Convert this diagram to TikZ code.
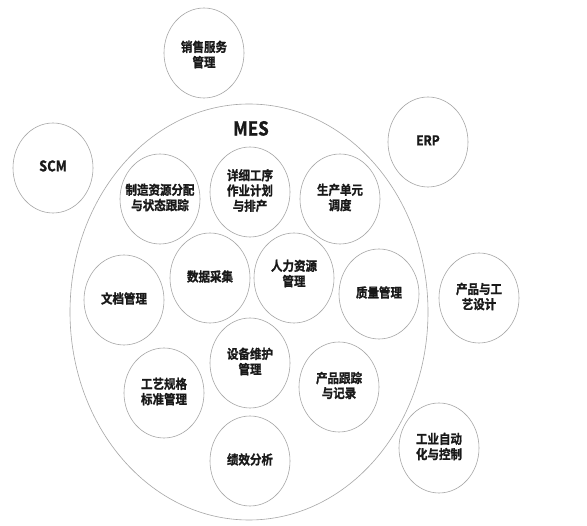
\documentclass[tikz,border=0pt]{standalone}
\usepackage{graphicx}
\usepackage{fontspec}
\newfontfamily\cjk{Noto Sans CJK SC}[BoldFont={* Bold}, BoldFeatures={FakeBold=1.2}]
\usetikzlibrary{shapes.geometric}
\newcommand\lbl[1]{\scalebox{1}[1.13]{\begin{tabular}{@{}c@{}}#1\end{tabular}}}
\tikzset{
  bub/.style={ellipse, draw=gray!70, line width=0.6pt, minimum width=80pt, minimum height=90pt, inner sep=0pt},
  big/.style={ellipse, draw=gray!70, line width=0.6pt, minimum width=358pt, minimum height=416pt, inner sep=0pt},
  lab/.style={inner sep=0pt, font=\cjk\bfseries\fontsize{11.5}{12.4}\selectfont, text=black!90},
}
\begin{document}
\begin{tikzpicture}[x=1pt,y=-1pt]
\useasboundingbox[fill=white] (0,0) rectangle (587,526);
% MES
\node[big] (mes) at (249,312) {};
\node[lab, font=\cjk\bfseries\fontsize{17}{20}\selectfont] (mes-t) at (251,131) {\lbl{MES}};
% outside
\node[bub] (sales) at (204,53) {};
\node[lab] (sales-t) at (204,56) {\lbl{销售服务\\管理}};
\node[bub] (scm) at (53,168) {};
\node[lab, font=\cjk\bfseries\fontsize{13}{15}\selectfont] (scm-t) at (scm) {\lbl{SCM}};
\node[bub] (erp) at (428,142) {};
\node[lab, font=\cjk\bfseries\fontsize{12}{15}\selectfont] (erp-t) at (erp) {\lbl{ERP}};
\node[bub] (design) at (479,298) {};
\node[lab] (design-t) at (design) {\lbl{产品与工\\艺设计}};
\node[bub] (auto) at (439,448) {};
\node[lab] (auto-t) at (auto) {\lbl{工业自动\\化与控制}};
% inside
\node[bub] (res) at (160,199) {};
\node[lab] (res-t) at (res) {\lbl{制造资源分配\\与状态跟踪}};
\node[bub] (plan) at (250,192) {};
\node[lab] (plan-t) at (plan) {\lbl{详细工序\\作业计划\\与排产}};
\node[bub] (unit) at (340,199) {};
\node[lab] (unit-t) at (unit) {\lbl{生产单元\\调度}};
\node[bub] (doc) at (124,300) {};
\node[lab] (doc-t) at (doc) {\lbl{文档管理}};
\node[bub] (data) at (210,278) {};
\node[lab] (data-t) at (210,278) {\lbl{数据采集}};
\node[bub] (hr) at (294,278) {};
\node[lab] (hr-t) at (294,275) {\lbl{人力资源\\管理}};
\node[bub] (qual) at (379,294) {};
\node[lab] (qual-t) at (qual) {\lbl{质量管理}};
\node[bub] (maint) at (250,363) {};
\node[lab] (maint-t) at (maint) {\lbl{设备维护\\管理}};
\node[bub] (spec) at (164,393) {};
\node[lab] (spec-t) at (spec) {\lbl{工艺规格\\标准管理}};
\node[bub] (track) at (339,387) {};
\node[lab] (track-t) at (track) {\lbl{产品跟踪\\与记录}};
\node[bub] (perf) at (250,461) {};
\node[lab] (perf-t) at (perf) {\lbl{绩效分析}};
\end{tikzpicture}
\end{document}
